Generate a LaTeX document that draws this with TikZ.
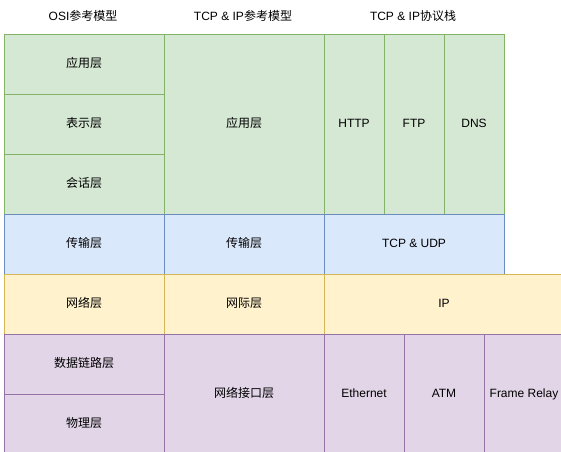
\documentclass[tikz,border=0pt]{standalone}
\usepackage{fontspec}
\setmainfont{Liberation Sans}
\newfontfamily\cjk{Noto Sans CJK SC}
\definecolor{gfill}{HTML}{D5E8D4}\definecolor{gline}{HTML}{82B366}
\definecolor{bfill}{HTML}{DAE8FC}\definecolor{bline}{HTML}{6C8EBF}
\definecolor{yfill}{HTML}{FFF2CC}\definecolor{yline}{HTML}{D6B656}
\definecolor{pfill}{HTML}{E1D5E7}\definecolor{pline}{HTML}{9673A6}
\tikzset{
  cell/.style={draw, rectangle, anchor=north west, inner sep=0pt, line width=1pt,
    text height=9pt, text depth=2.5pt, font=\fontsize{12}{14}\selectfont},
  gcell/.style={cell, fill=gfill, draw=gline},
  bcell/.style={cell, fill=bfill, draw=bline},
  ycell/.style={cell, fill=yfill, draw=yline},
  pcell/.style={cell, fill=pfill, draw=pline},
  title/.style={font=\fontsize{12}{14}\selectfont, inner sep=0pt, text height=9pt, text depth=2.5pt},
}
\newcommand{\cellat}[7]{% style, name, x, y, w, h, text
  \node[#1, minimum width=#5pt, minimum height=#6pt] (#2) at (#3pt,-#4pt) {#7};}
\begin{document}
\begin{tikzpicture}[x=1pt,y=1pt]
\useasboundingbox (0,0) rectangle (561,-451);
\fill[white] (0,0) rectangle (561,-451);
% titles
\node[title] (t1) at (83,-17.5) {OSI{\cjk 参考模型}};
\node[title] (t2) at (243,-17.5) {TCP \& IP{\cjk 参考模型}};
\node[title] (t3) at (413,-17.5) {TCP \& IP{\cjk 协议栈}};
% OSI column
\cellat{gcell}{osi7}{3.5}{33.5}{160}{60}{\cjk 应用层}
\cellat{gcell}{osi6}{3.5}{93.5}{160}{60}{\cjk 表示层}
\cellat{gcell}{osi5}{3.5}{153.5}{160}{60}{\cjk 会话层}
\cellat{bcell}{osi4}{3.5}{213.5}{160}{60}{\cjk 传输层}
\cellat{ycell}{osi3}{3.5}{273.5}{160}{60}{\cjk 网络层}
\cellat{pcell}{osi2}{3.5}{333.5}{160}{60}{\cjk 数据链路层}
\cellat{pcell}{osi1}{3.5}{393.5}{160}{60}{\cjk 物理层}
% TCP/IP model column
\cellat{gcell}{tm4}{163.5}{33.5}{160}{180}{\cjk 应用层}
\cellat{bcell}{tm3}{163.5}{213.5}{160}{60}{\cjk 传输层}
\cellat{ycell}{tm2}{163.5}{273.5}{160}{60}{\cjk 网际层}
\cellat{pcell}{tm1}{163.5}{333.5}{160}{120}{\cjk 网络接口层}
% protocol stack
\cellat{gcell}{http}{323.5}{33.5}{60}{180}{HTTP}
\cellat{gcell}{ftp}{383.5}{33.5}{60}{180}{FTP}
\cellat{gcell}{dns}{443.5}{33.5}{60}{180}{DNS}
\cellat{bcell}{tcpudp}{323.5}{213.5}{180}{60}{TCP \& UDP}
\cellat{ycell}{ip}{323.5}{273.5}{240}{60}{IP}
\cellat{pcell}{eth}{323.5}{333.5}{80}{120}{Ethernet}
\cellat{pcell}{atm}{403.5}{333.5}{80}{120}{ATM}
\cellat{pcell}{fr}{483.5}{333.5}{80}{120}{Frame Relay}
\end{tikzpicture}
\end{document}
